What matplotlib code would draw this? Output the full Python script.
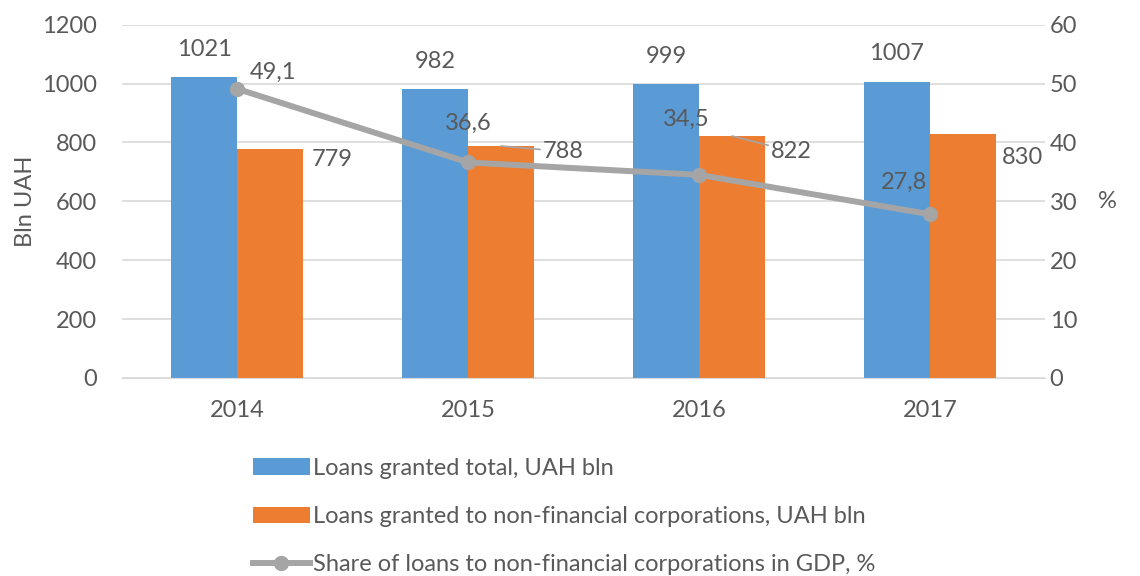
import numpy as np
import matplotlib.pyplot as plt

plt.rcParams['font.family'] = ['Lato', 'DejaVu Sans']

years = ['2014', '2015', '2016', '2017']
loans_total = [1021, 982, 999, 1007]
loans_nfc = [779, 788, 822, 830]
share_gdp = [49.1, 36.6, 34.5, 27.8]

blue = '#5b9bd5'
orange = '#ed7d31'
gray = '#a5a5a5'
txt = '#595959'
fs = 17

fig = plt.figure(figsize=(11.4, 5.76), dpi=100)
ax = fig.add_axes([0.107, 0.344, 0.81, 0.613])
ax2 = ax.twinx()

x = np.arange(len(years))
w = 0.286
ax.bar(x - w / 2, loans_total, w, color=blue, label='Loans granted total, UAH bln', zorder=2)
ax.bar(x + w / 2, loans_nfc, w, color=orange, label='Loans granted to non-financial corporations, UAH bln', zorder=2)
ax2.plot(x, share_gdp, color=gray, lw=4.3, marker='o', ms=10,
         label='Share of loans to non-financial corporations in GDP, %')

ax.set_xlim(-0.5, 3.5)
ax.set_ylim(0, 1200)
ax.set_yticks(range(0, 1201, 200))
ax2.set_ylim(0, 60)
ax2.set_yticks(range(0, 61, 10))
ax.set_xticks(x)
ax.set_xticklabels(years)
ax.grid(axis='y', color='#d9d9d9', lw=1.2, zorder=0)
ax.set_axisbelow(True)

for a in (ax, ax2):
    for s in a.spines.values():
        s.set_visible(False)
    a.tick_params(length=0, labelsize=fs, colors=txt)
ax.spines['bottom'].set_visible(True)
ax.spines['bottom'].set_color('#d9d9d9')
ax.tick_params(axis='x', pad=16)
ax.tick_params(axis='y', pad=18)
ax2.tick_params(axis='y', pad=3)

ax.set_ylabel('Bln UAH', fontsize=fs, color=txt, labelpad=4)
ax2.set_ylabel('%', fontsize=fs, color=txt, rotation=0, labelpad=22, va='center')

# bar labels
for i, v in enumerate(loans_total):
    ax.annotate(str(v), (x[i] - w / 2, v), xytext=(0, 20), textcoords='offset points',
                ha='center', va='center', fontsize=fs, color=txt)
lead = dict(arrowstyle='-', color=gray, lw=1.2, shrinkA=0, shrinkB=0)
ax.annotate(str(loans_nfc[0]), (x[0] + w, loans_nfc[0]), xytext=(6, -8), textcoords='offset points',
            ha='left', va='center', fontsize=fs, color=txt)
ax.annotate(str(loans_nfc[1]), (x[1] + w / 2, loans_nfc[1]), xytext=(30, -4), textcoords='offset points',
            ha='left', va='center', fontsize=fs, color=txt, arrowprops=lead)
ax.annotate(str(loans_nfc[2]), (x[2] + w / 2, loans_nfc[2]), xytext=(28, -11), textcoords='offset points',
            ha='left', va='center', fontsize=fs, color=txt, arrowprops=lead)
ax.annotate(str(loans_nfc[3]), (x[3] + w, loans_nfc[3]), xytext=(4, -17), textcoords='offset points',
            ha='left', va='center', fontsize=fs, color=txt)

# line labels
line_off = [(9, 12), (0, 28), (-9, 40), (-19, 23)]
for i, v in enumerate(share_gdp):
    dx, dy = line_off[i]
    ha = 'left' if i == 0 else 'center'
    ax2.annotate(f'{v:.1f}'.replace('.', ','), (x[i], v), xytext=(dx, dy), textcoords='offset points',
                 ha=ha, va='center', fontsize=fs, color=txt)

h1, l1 = ax.get_legend_handles_labels()
h2, l2 = ax2.get_legend_handles_labels()
fig.legend(h1 + h2, l1 + l2, loc='upper left', bbox_to_anchor=(0.222, 0.205), ncol=1,
           frameon=False, fontsize=fs, labelcolor=txt, labelspacing=1.15,
           handlelength=2.4, handletextpad=0.15, borderaxespad=0, borderpad=0)

plt.savefig('out.png', dpi=100)
